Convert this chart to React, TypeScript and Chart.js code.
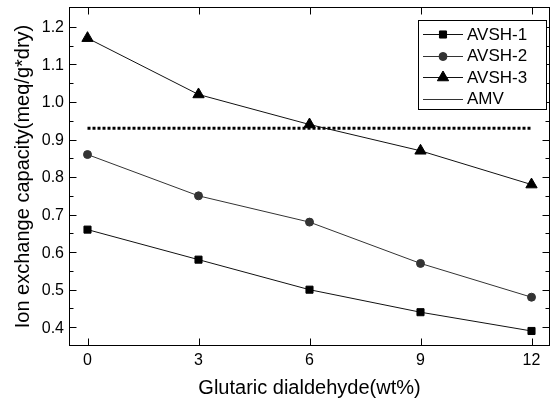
import React, { useEffect, useRef } from 'react';
import { Chart, registerables } from 'chart.js';
import { drawPoint } from 'chart.js/helpers';

Chart.register(...registerables);

// ---- data ----
const xValues = [0, 3, 6, 9, 12];
const avsh1 = [0.66, 0.58, 0.5, 0.44, 0.39];
const avsh2 = [0.86, 0.75, 0.68, 0.57, 0.48];
const avsh3 = [1.17, 1.02, 0.94, 0.87, 0.78];
const amvValue = 0.93;
const amvRange = [0, 12];
const seriesLabels = ['AVSH-1', 'AVSH-2', 'AVSH-3', 'AMV'];
const xTicks = [0, 3, 6, 9, 12];
const xTickLabels = ['0', '3', '6', '9', '12'];
const yTicks = [0.4, 0.5, 0.6, 0.7, 0.8, 0.9, 1.0, 1.1, 1.2];
const yTickLabels = ['0.4', '0.5', '0.6', '0.7', '0.8', '0.9', '1.0', '1.1', '1.2'];
const yMinorTicks = [0.45, 0.55, 0.65, 0.75, 0.85, 0.95, 1.05, 1.15];
const xRange = [-0.5, 12.5];
const yRange = [0.35, 1.253];
const xTitle = 'Glutaric dialdehyde(wt%)';
const yTitle = 'Ion exchange capacity(meq/g*dry)';

const FONT = '"Liberation Sans", Arial, Helvetica, sans-serif';

const axesPlugin = {
  id: 'axesFrame',
  afterDatasetsDraw(chart: any) {
    const { ctx, chartArea: a, scales } = chart;
    const xs = scales.x;
    const ys = scales.y;
    const L = Math.round(a.left) + 0.5;
    const R = Math.round(a.right) - 0.5;
    const T = Math.round(a.top) + 0.5;
    const B = Math.round(a.bottom) - 0.5;
    ctx.save();
    ctx.strokeStyle = '#000';
    ctx.lineWidth = 1;
    ctx.setLineDash([]);
    ctx.strokeRect(L, T, R - L, B - T);
    ctx.beginPath();
    const major = 7;
    const minor = 4;
    xTicks.forEach((v) => {
      const px = Math.round(xs.getPixelForValue(v)) + 0.5;
      ctx.moveTo(px, B);
      ctx.lineTo(px, B - major);
      ctx.moveTo(px, T);
      ctx.lineTo(px, T + major);
    });
    yTicks.forEach((v) => {
      const py = Math.round(ys.getPixelForValue(v)) + 0.5;
      ctx.moveTo(L, py);
      ctx.lineTo(L + major, py);
      ctx.moveTo(R, py);
      ctx.lineTo(R - major, py);
    });
    yMinorTicks.forEach((v) => {
      const py = Math.round(ys.getPixelForValue(v)) + 0.5;
      ctx.moveTo(L, py);
      ctx.lineTo(L + minor, py);
      ctx.moveTo(R, py);
      ctx.lineTo(R - minor, py);
    });
    ctx.stroke();

    // tick labels
    ctx.fillStyle = '#000';
    ctx.font = `16px ${FONT}`;
    ctx.textBaseline = 'middle';
    ctx.textAlign = 'right';
    yTicks.forEach((v, i) => {
      ctx.fillText(yTickLabels[i], a.left - 5, ys.getPixelForValue(v) + 1);
    });
    ctx.textAlign = 'center';
    xTicks.forEach((v, i) => {
      ctx.fillText(xTickLabels[i], xs.getPixelForValue(v), a.bottom + 15);
    });

    // axis titles
    ctx.font = `20px ${FONT}`;
    ctx.textAlign = 'center';
    ctx.textBaseline = 'middle';
    ctx.fillText(xTitle, (a.left + a.right) / 2, a.bottom + 42);
    ctx.save();
    ctx.translate(23, (a.top + a.bottom) / 2);
    ctx.rotate(-Math.PI / 2);
    ctx.fillText(yTitle, 0, 0);
    ctx.restore();
    ctx.restore();
  },
};

const legendPlugin = {
  id: 'boxLegend',
  afterDraw(chart: any) {
    const { ctx } = chart;
    const bx = 418.5;
    const by = 20.5;
    const bw = 128;
    const bh = 89;
    ctx.save();
    ctx.fillStyle = '#fff';
    ctx.fillRect(bx, by, bw, bh);
    ctx.strokeStyle = '#000';
    ctx.lineWidth = 1;
    ctx.strokeRect(bx, by, bw, bh);
    const rows = [34, 55.5, 77, 98.5];
    chart.data.datasets.forEach((ds: any, i: number) => {
      const y = rows[i];
      ctx.beginPath();
      ctx.strokeStyle = ds.legendLineColor || ds.borderColor;
      ctx.lineWidth = 1;
      ctx.setLineDash([]);
      ctx.moveTo(423, Math.round(y) + 0.5);
      ctx.lineTo(463, Math.round(y) + 0.5);
      ctx.stroke();
      if (ds.pointRadius > 0) {
        ctx.fillStyle = ds.pointBackgroundColor;
        ctx.strokeStyle = ds.pointBorderColor;
        ctx.lineWidth = ds.pointBorderWidth;
        drawPoint(
          ctx,
          { pointStyle: ds.pointStyle, radius: ds.pointRadius, rotation: 0, borderWidth: ds.pointBorderWidth },
          443,
          Math.round(y) + 0.5
        );
      }
      ctx.fillStyle = '#000';
      ctx.font = `17px ${FONT}`;
      ctx.textAlign = 'left';
      ctx.textBaseline = 'middle';
      ctx.fillText(ds.label, 467, y + 1);
    });
    ctx.restore();
  },
};

export default function App() {
  const ref = useRef<HTMLCanvasElement>(null);
  useEffect(() => {
    document.body.style.margin = '0';
    const canvas = ref.current;
    if (!canvas) return;
    const mk = (arr: number[]) => arr.map((v, i) => ({ x: xValues[i], y: v }));
    const chart = new Chart(canvas, {
      type: 'line',
      data: {
        datasets: [
          {
            label: seriesLabels[0],
            data: mk(avsh1),
            borderColor: '#111',
            borderWidth: 1,
            pointStyle: 'rect',
            pointRadius: 5,
            pointBackgroundColor: '#000',
            pointBorderColor: '#000',
            pointBorderWidth: 1,
          },
          {
            label: seriesLabels[1],
            data: mk(avsh2),
            borderColor: '#333',
            borderWidth: 1,
            pointStyle: 'circle',
            pointRadius: 4,
            pointBackgroundColor: '#333',
            pointBorderColor: '#333',
            pointBorderWidth: 1,
          },
          {
            label: seriesLabels[2],
            data: mk(avsh3),
            borderColor: '#111',
            borderWidth: 1,
            pointStyle: 'triangle',
            pointRadius: 6.5,
            pointBackgroundColor: '#000',
            pointBorderColor: '#000',
            pointBorderWidth: 1,
          },
          {
            label: seriesLabels[3],
            data: amvRange.map((x) => ({ x, y: amvValue })),
            borderColor: '#000',
            legendLineColor: '#333',
            borderWidth: 3,
            borderDash: [3, 2],
            pointRadius: 0,
            pointStyle: 'line',
            pointBackgroundColor: '#000',
            pointBorderColor: '#000',
            pointBorderWidth: 0,
          } as any,
        ],
      },
      options: {
        animation: false,
        responsive: false,
        devicePixelRatio: 1,
        layout: { autoPadding: false, padding: { top: 7, right: 3, left: 69, bottom: 56 } },
        plugins: { legend: { display: false }, tooltip: { enabled: false } },
        elements: { line: { tension: 0 } },
        scales: {
          x: { type: 'linear', min: xRange[0], max: xRange[1], display: false },
          y: { type: 'linear', min: yRange[0], max: yRange[1], display: false },
        },
      } as any,
      plugins: [axesPlugin, legendPlugin],
    });
    return () => chart.destroy();
  }, []);
  return (
    <div style={{ width: 553, height: 402, background: '#fff' }}>
      <canvas ref={ref} width={553} height={402} style={{ display: 'block' }} />
    </div>
  );
}
